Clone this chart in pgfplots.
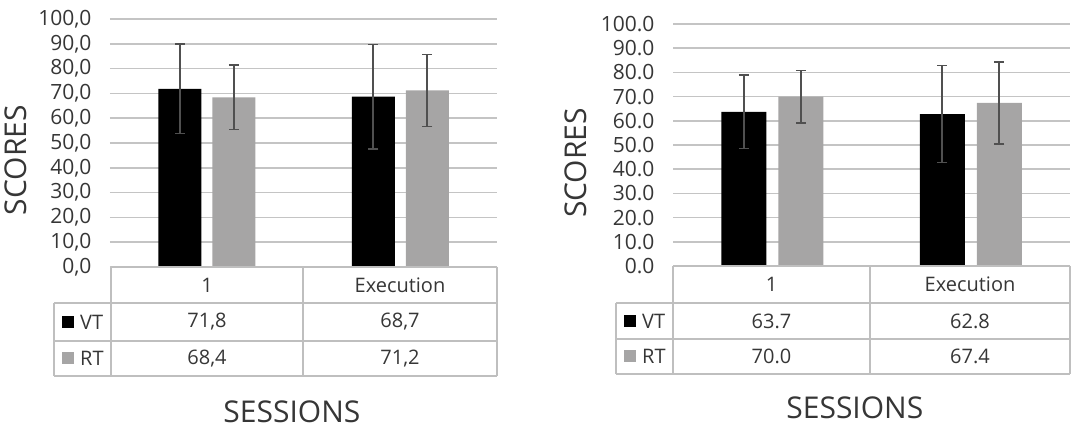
\documentclass[border=0pt]{standalone}
\usepackage{pgfplots}
\pgfplotsset{compat=1.18}
\usepackage{fontspec}
\setmainfont{Open Sans}
\definecolor{gridgray}{HTML}{C4C4C4}
\definecolor{tblgray}{HTML}{BFBFBF}
\definecolor{barblack}{HTML}{000000}
\definecolor{bargray}{HTML}{A6A5A5}
\definecolor{errgray}{HTML}{505050}
\definecolor{txt}{HTML}{363636}
\pgfplotsset{
  excelbar/.style={
    scale only axis,
    ymin=0, ymax=100, xmin=-0.5, xmax=1.5,
    xtick=\empty,
    ytick={0,10,...,100},
    ymajorgrids,
    grid style={color=gridgray, line width=1.5pt},
    axis line style={draw=none},
    major tick length=0pt,
    /pgf/number format/assume math mode=true,
    yticklabel style={font=\fontsize{21}{23}\selectfont, color=txt, xshift=-15pt},
    ylabel style={font=\fontsize{30}{32}\selectfont, color=txt, anchor=center},
    xlabel style={font=\fontsize{30}{32}\selectfont, color=txt, anchor=center},
    clip=false,
  },
  errstyle/.style={
    error bars/.cd, y dir=both, y explicit,
    error bar style={color=errgray, line width=1.6pt},
    error mark options={rotate=90, mark size=5pt, line width=1.6pt, color=errgray},
  },
}
\begin{document}
\begin{tikzpicture}
\path (0pt,0pt) rectangle (1092pt,436pt);
% ---------- Left chart ----------
\begin{axis}[excelbar,
  at={(110pt,169pt)}, anchor=south west,
  width=387pt, height=248pt,
  ybar=11pt, bar width=43pt,
  yticklabel style={/pgf/number format/.cd, fixed, fixed zerofill, precision=1, use comma},
  ylabel={SCORES},
  ylabel style={at={(axis description cs:-0.243,0.431)}, rotate=0},
  xlabel={SESSIONS},
  xlabel style={at={(axis description cs:0.470,-0.585)}},
]
\addplot[fill=barblack, draw=none, errstyle] coordinates {(0,71.8) +- (0,18.0) (1,68.7) +- (0,21.0)};
\addplot[fill=bargray, draw=none, errstyle] coordinates {(0,68.4) +- (0,13.0) (1,71.2) +- (0,14.5)};
\end{axis}
% left data table
\begin{scope}[draw=tblgray, line width=1.5pt]
\draw (111pt,169pt) -- (497pt,169pt);
\draw (54pt,133pt) -- (497pt,133pt);
\draw (54pt,95pt) -- (497pt,95pt);
\draw (54pt,60pt) -- (497pt,60pt);
\draw (54pt,133pt) -- (54pt,60pt);
\draw (111pt,169pt) -- (111pt,60pt);
\draw (303pt,169pt) -- (303pt,60pt);
\draw (497pt,169pt) -- (497pt,60pt);
\end{scope}
\begin{scope}[every node/.style={font=\fontsize{20}{22}\selectfont, text=txt, inner sep=0pt}]
\node at (207pt,151pt) {1};
\node at (400pt,151pt) {Execution};
\node at (207pt,114pt) {71,8};
\node at (400pt,114pt) {68,7};
\node at (207pt,77.5pt) {68,4};
\node at (400pt,77.5pt) {71,2};
\fill[barblack] (62pt,108pt) rectangle (74pt,120pt);
\fill[bargray] (62pt,71.5pt) rectangle (74pt,83.5pt);
\node[anchor=west] at (80pt,114pt) {VT};
\node[anchor=west] at (80pt,77.5pt) {RT};
\end{scope}
% ---------- Right chart ----------
\begin{axis}[excelbar,
  at={(673pt,170pt)}, anchor=south west,
  width=397pt, height=242pt,
  ybar=12pt, bar width=45pt,
  yticklabel style={/pgf/number format/.cd, fixed, fixed zerofill, precision=1},
  ylabel={SCORES},
  ylabel style={at={(axis description cs:-0.244,0.426)}, rotate=0},
  xlabel={SESSIONS},
  xlabel style={at={(axis description cs:0.458,-0.587)}},
]
\addplot[fill=barblack, draw=none, errstyle] coordinates {(0,63.7) +- (0,15.2) (1,62.8) +- (0,20.1)};
\addplot[fill=bargray, draw=none, errstyle] coordinates {(0,70.0) +- (0,10.8) (1,67.4) +- (0,17.0)};
\end{axis}
% right data table
\begin{scope}[draw=tblgray, line width=1.5pt]
\draw (673pt,170pt) -- (1070pt,170pt);
\draw (616pt,133pt) -- (1070pt,133pt);
\draw (616pt,97pt) -- (1070pt,97pt);
\draw (616pt,62pt) -- (1070pt,62pt);
\draw (616pt,133pt) -- (616pt,62pt);
\draw (673pt,170pt) -- (673pt,62pt);
\draw (870pt,170pt) -- (870pt,62pt);
\draw (1070pt,170pt) -- (1070pt,62pt);
\end{scope}
\begin{scope}[every node/.style={font=\fontsize{20}{22}\selectfont, text=txt, inner sep=0pt}]
\node at (771.5pt,151.5pt) {1};
\node at (970pt,151.5pt) {Execution};
\node at (771.5pt,115pt) {63.7};
\node at (970pt,115pt) {62.8};
\node at (771.5pt,79.5pt) {70.0};
\node at (970pt,79.5pt) {67.4};
\fill[barblack] (624pt,109pt) rectangle (636pt,121pt);
\fill[bargray] (624pt,73.5pt) rectangle (636pt,85.5pt);
\node[anchor=west] at (642pt,115pt) {VT};
\node[anchor=west] at (642pt,79.5pt) {RT};
\end{scope}
\end{tikzpicture}
\end{document}
